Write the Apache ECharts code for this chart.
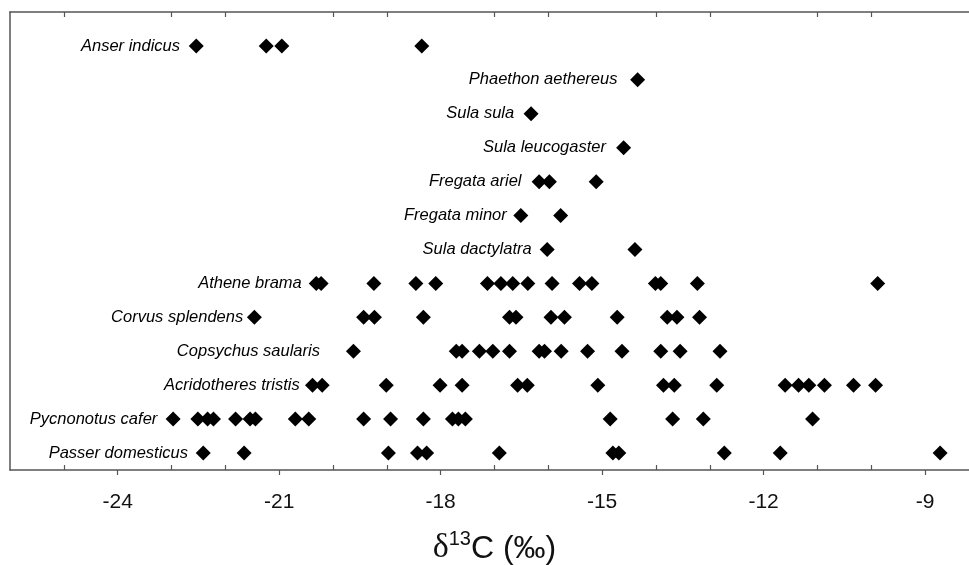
<!DOCTYPE html>
<html>
<head>
<meta charset="utf-8">
<script src="https://cdn.jsdelivr.net/npm/echarts@6/dist/echarts.min.js"></script>
<style>
html,body{margin:0;padding:0;background:#fff;}
#chart{width:969px;height:565px;}
</style>
</head>
<body>
<div id="chart"></div>
<script>
// Species, top row to bottom row
var species = [
  "Anser indicus", "Phaethon aethereus", "Sula sula", "Sula leucogaster",
  "Fregata ariel", "Fregata minor", "Sula dactylatra", "Athene brama",
  "Corvus splendens", "Copsychus saularis", "Acridotheres tristis",
  "Pycnonotus cafer", "Passer domesticus"
];

// δ13C values (‰) per species
var anserIndicus = [-22.54, -21.24, -20.95, -18.35];
var phaethonAethereus = [-14.34];
var sulaSula = [-16.32];
var sulaLeucogaster = [-14.60];
var fregataAriel = [-16.17, -15.98, -15.11];
var fregataMinor = [-16.51, -15.77];
var sulaDactylatra = [-16.02, -14.39];
var atheneBrama = [-20.31, -20.22, -19.24, -18.46, -18.09, -17.13, -16.88, -16.66,
  -16.38, -15.93, -15.42, -15.19, -14.01, -13.91, -13.23, -9.88];
var corvusSplendens = [-21.46, -19.43, -19.23, -18.32, -16.72, -16.60, -15.95,
  -15.70, -14.72, -13.79, -13.61, -13.19];
var copsychusSaularis = [-19.62, -17.71, -17.60, -17.28, -17.03, -16.72, -16.17,
  -16.07, -15.76, -15.27, -14.63, -13.91, -13.55, -12.81];
var acridotheresTristis = [-20.38, -20.20, -19.01, -18.01, -17.60, -16.57, -16.39,
  -15.08, -13.86, -13.66, -12.87, -11.60, -11.35, -11.16, -10.87, -10.33, -9.92];
var pycnonotusCafer = [-22.97, -22.51, -22.33, -22.22, -21.81, -21.54, -21.44,
  -20.70, -20.45, -19.43, -18.93, -18.32, -17.78, -17.67, -17.54, -14.85,
  -13.69, -13.12, -11.09];
var passerDomesticus = [-22.41, -21.65, -18.97, -18.43, -18.26, -16.91, -14.80,
  -14.69, -12.73, -11.69, -8.72];

var seriesValues = [anserIndicus, phaethonAethereus, sulaSula, sulaLeucogaster,
  fregataAriel, fregataMinor, sulaDactylatra, atheneBrama, corvusSplendens,
  copsychusSaularis, acridotheresTristis, pycnonotusCafer, passerDomesticus];

// Axis ticks
var majorTicks = [-24, -21, -18, -15, -12, -9];
var minorTicks = [-25, -23, -22, -20, -19, -17, -16, -14, -13, -11, -10];

// Style: label gap (px) from the leftmost diamond, per row
var labelGap = [8.7, 12.7, 9.4, 10.2, 10.1, 6.6, 8, 7, 3.7, 26, 5.3, 8.3, 7.7];

var nRows = species.length;
var series = species.map(function (name, i) {
  var vals = seriesValues[i];
  var row = nRows - i;
  var minV = Math.min.apply(null, vals);
  var labelled = false;
  var data = vals.map(function (v) {
    var item = { value: [v, row] };
    if (v === minV && !labelled) {
      labelled = true;
      item.label = {
        show: true,
        position: 'left',
        distance: labelGap[i],
        formatter: name,
        fontStyle: 'italic',
        fontFamily: 'Liberation Sans, Arial, sans-serif',
        fontSize: 16.5,
        color: '#000'
      };
    }
    return item;
  });
  return {
    type: 'scatter',
    name: name,
    xAxisIndex: 0,
    yAxisIndex: 0,
    symbol: 'diamond',
    symbolSize: 15,
    itemStyle: { color: '#000', opacity: 1 },
    emphasis: { disabled: true },
    silent: true,
    data: data
  };
});

var chart = echarts.init(document.getElementById('chart'), null, { renderer: 'canvas' });
var axisColor = '#555';
chart.setOption({
  animation: false,
  backgroundColor: '#fff',
  grid: { left: 10, top: 12, width: 968.9, height: 458, show: false,
          containLabel: false, outerBoundsMode: 'none' },
  xAxis: [
    {
      type: 'value', position: 'bottom', min: -26, max: -8,
      axisLine: { show: true, lineStyle: { color: axisColor, width: 1.5 } },
      axisTick: { show: true, inside: false, length: 5, customValues: majorTicks,
        lineStyle: { color: axisColor, width: 1.2 } },
      axisLabel: { show: true, customValues: majorTicks, margin: 22,
        fontSize: 21, color: '#111', fontFamily: 'Liberation Sans, Arial, sans-serif' },
      splitLine: { show: false },
      name: '{d|δ}{s|13}{c|C (‰)}',
      nameLocation: 'middle',
      nameGap: 59,
      nameTextStyle: {
        rich: {
          d: { fontFamily: 'Liberation Serif, serif', fontSize: 34, color: '#111',
               lineHeight: 36, verticalAlign: 'bottom' },
          s: { fontFamily: 'Liberation Sans, Arial, sans-serif', fontSize: 20, color: '#111',
               lineHeight: 20, verticalAlign: 'top' },
          c: { fontFamily: 'Liberation Sans, Arial, sans-serif', fontSize: 32, color: '#111',
               lineHeight: 36, verticalAlign: 'bottom' }
        }
      }
    },
    {
      type: 'value', position: 'bottom', min: -26, max: -8,
      axisLine: { show: false },
      axisTick: { show: true, inside: true, length: 5, customValues: minorTicks,
        lineStyle: { color: axisColor, width: 1.2 } },
      axisLabel: { show: false },
      splitLine: { show: false }
    },
    {
      type: 'value', position: 'top', min: -26, max: -8,
      axisLine: { show: true, lineStyle: { color: axisColor, width: 1.5 } },
      axisTick: { show: true, inside: true, length: 5, customValues: minorTicks,
        lineStyle: { color: axisColor, width: 1.2 } },
      axisLabel: { show: false },
      splitLine: { show: false }
    }
  ],
  yAxis: [{
    type: 'value', min: 0.5, max: 14,
    axisLine: { show: true, onZero: false, lineStyle: { color: axisColor, width: 1.5 } },
    axisTick: { show: false },
    axisLabel: { show: false },
    splitLine: { show: false }
  }],
  series: series
});
</script>
</body>
</html>
